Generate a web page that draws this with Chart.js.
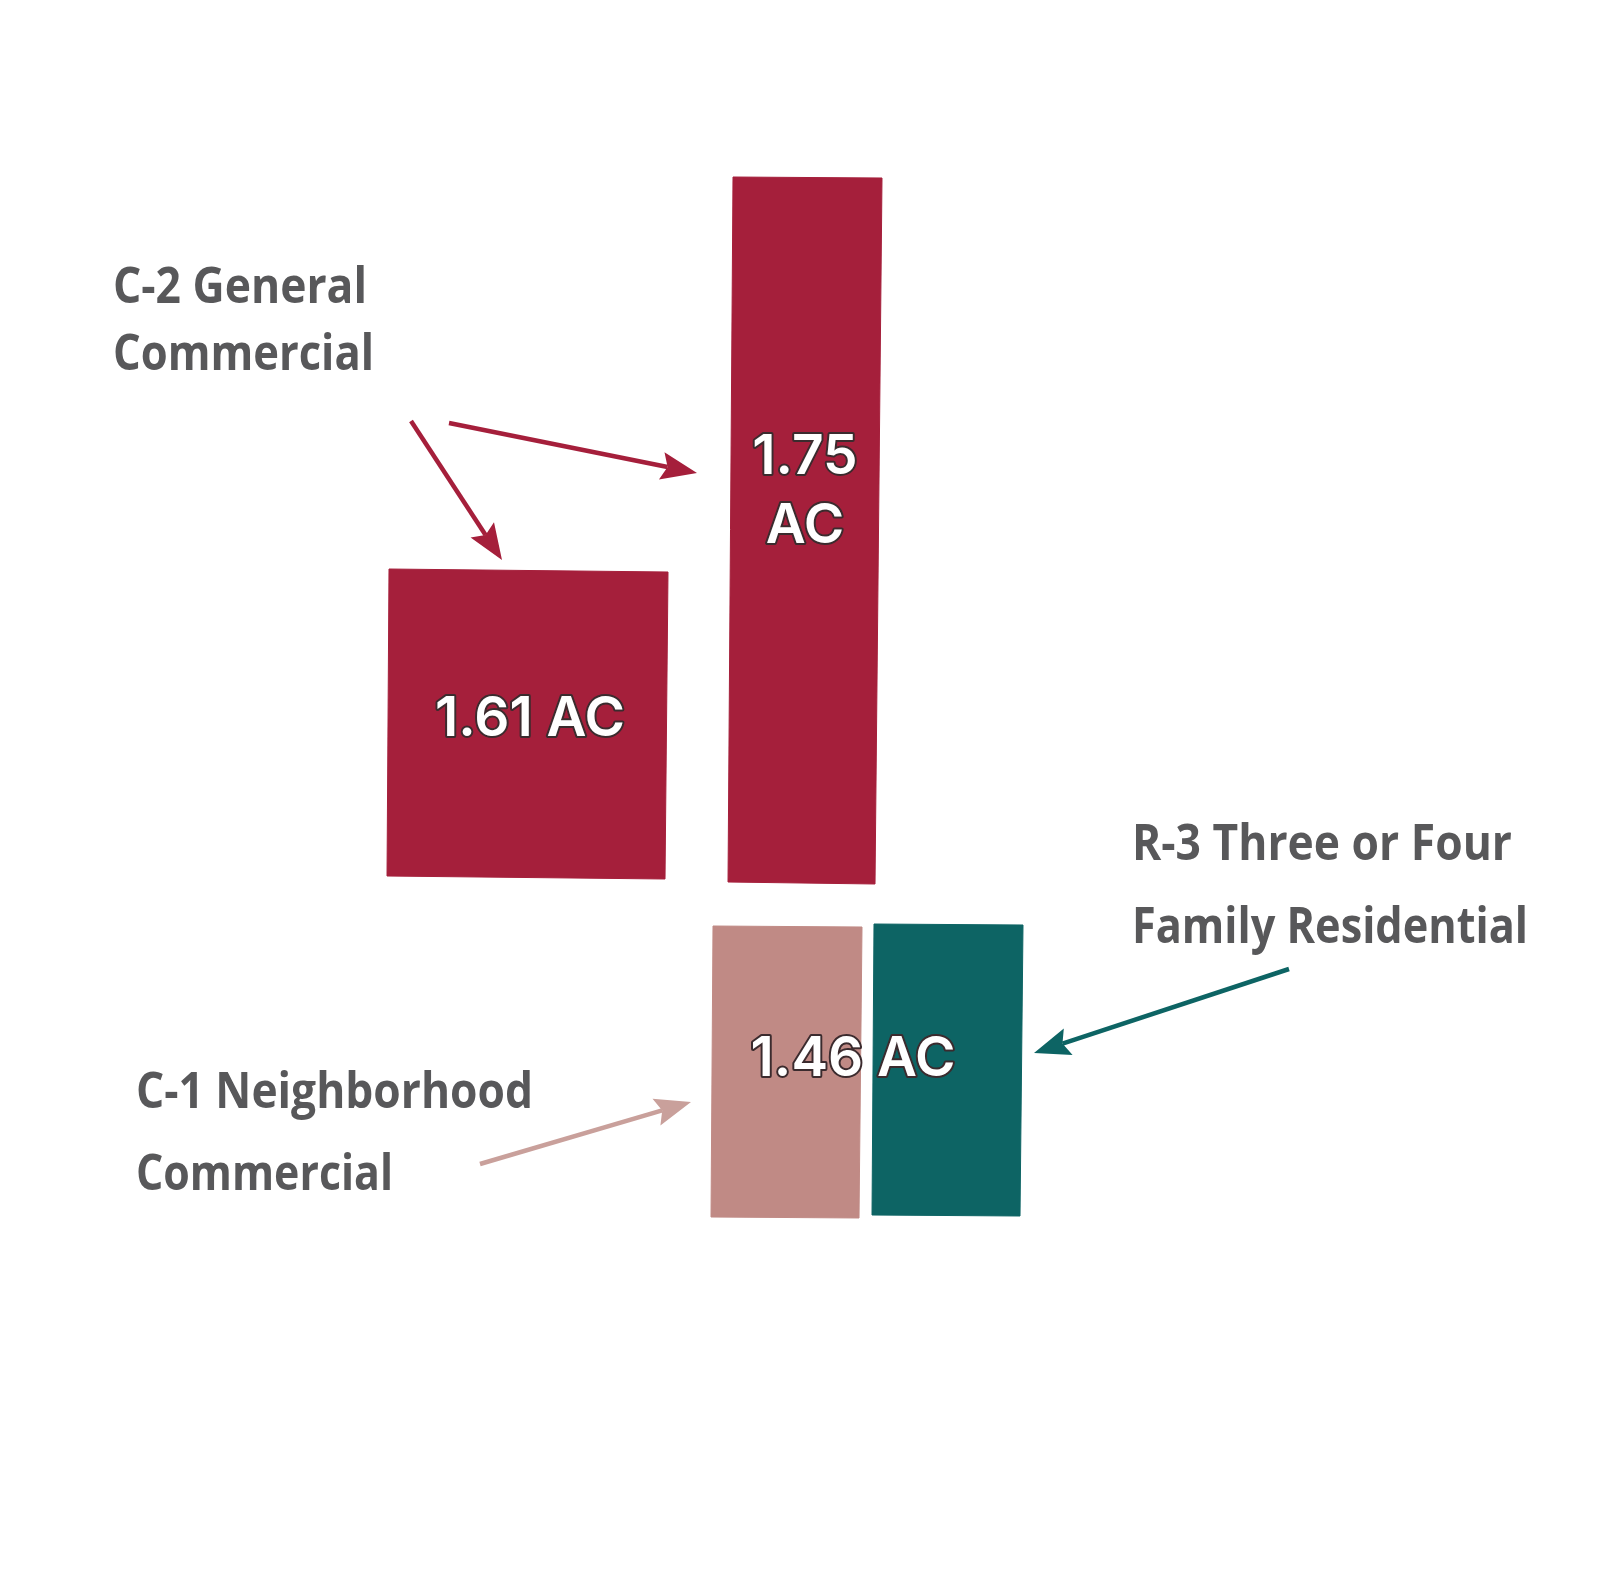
<!DOCTYPE html>
<html>
<head>
<meta charset="utf-8">
<script src="https://cdn.jsdelivr.net/npm/chart.js@4.4.1/dist/chart.umd.min.js"></script>
<style>
  html, body { margin: 0; padding: 0; background: #ffffff; }
  #wrap { width: 1600px; height: 1594px; position: relative; }
</style>
</head>
<body>
<div id="wrap"><canvas id="sitePlan"></canvas></div>
<script>
// parcel outlines, plan units (corners clockwise, first corner repeated to close)
const c2WestX = [389, 668, 665, 387, 389];
const c2WestY = [569, 572, 879, 876, 569];
const c2EastX = [733, 882, 875, 728, 733];
const c2EastY = [177, 178, 884, 882, 177];
const c1X = [713, 862, 859, 711, 713];
const c1Y = [926, 927, 1218, 1217, 926];
const r3X = [874, 1023, 1020, 872, 874];
const r3Y = [924, 925, 1216, 1215, 924];

const zoneNames = ["C-2 General Commercial", "C-2 General Commercial", "C-1 Neighborhood Commercial", "R-3 Three or Four Family Residential"];
const zoneColors = ["#a51f3b", "#a51f3b", "#c08a85", "#0d6464"];

// acreage labels
const acreText = ["1.61 AC", "1.75", "AC", "1.46 AC"];
const acreX = [530, 805, 805, 853];
const acreY = [719, 457, 526, 1059];

// zone name labels (left edge, baseline, width)
const zoneLines = ["C-2 General", "Commercial", "C-1 Neighborhood", "Commercial", "R-3 Three or Four", "Family Residential"];
const zoneLineX = [113, 113, 136, 136, 1132, 1132];
const zoneLineY = [303, 370, 1108, 1190, 860, 943];
const zoneLineW = [254, 261, 397, 257, 380, 396];

// leader arrows
const arrowFromX = [411, 449, 480, 1289];
const arrowFromY = [421, 423, 1164, 969];
const arrowToX = [502, 697, 691, 1034];
const arrowToY = [560, 473, 1102, 1053];
const arrowColors = ["#a51f3b", "#a51f3b", "#c9a09b", "#0d6464"];

function outline(xs, ys) {
  return xs.map((x, i) => ({ x: x, y: ys[i] }));
}

const outlines = [
  outline(c2WestX, c2WestY),
  outline(c2EastX, c2EastY),
  outline(c1X, c1Y),
  outline(r3X, r3Y),
];

const datasets = outlines.map((pts, i) => ({
  label: zoneNames[i],
  data: pts,
  showLine: true,
  fill: "shape",
  tension: 0,
  backgroundColor: zoneColors[i],
  borderColor: zoneColors[i],
  borderWidth: 1,
  pointRadius: 0,
  pointHoverRadius: 0,
}));

function drawArrow(ctx, x1, y1, x2, y2, color) {
  const ang = Math.atan2(y2 - y1, x2 - x1);
  const headLen = 36;
  const headHalf = 14;
  const notch = 6;
  const bx = x2 - Math.cos(ang) * (headLen - notch);
  const by = y2 - Math.sin(ang) * (headLen - notch);
  ctx.save();
  ctx.strokeStyle = color;
  ctx.fillStyle = color;
  ctx.lineWidth = 4.5;
  ctx.lineCap = "butt";
  ctx.beginPath();
  ctx.moveTo(x1, y1);
  ctx.lineTo(bx, by);
  ctx.stroke();
  const hx = x2 - Math.cos(ang) * headLen;
  const hy = y2 - Math.sin(ang) * headLen;
  const px = -Math.sin(ang) * headHalf;
  const py = Math.cos(ang) * headHalf;
  ctx.beginPath();
  ctx.moveTo(x2, y2);
  ctx.lineTo(hx + px, hy + py);
  ctx.lineTo(bx, by);
  ctx.lineTo(hx - px, hy - py);
  ctx.closePath();
  ctx.fill();
  ctx.restore();
}

const annotations = {
  id: "annotations",
  afterDatasetsDraw(chart) {
    const ctx = chart.ctx;
    const sx = chart.scales.x;
    const sy = chart.scales.y;

    // acreage
    ctx.save();
    ctx.font = "600 55px Inter";
    ctx.textAlign = "center";
    ctx.textBaseline = "middle";
    ctx.lineJoin = "round";
    acreText.forEach((t, i) => {
      const x = sx.getPixelForValue(acreX[i]);
      const y = sy.getPixelForValue(acreY[i]);
      ctx.strokeStyle = "#3b2b2e";
      ctx.lineWidth = 4;
      ctx.strokeText(t, x, y);
      ctx.fillStyle = "#ffffff";
      ctx.fillText(t, x, y);
    });
    ctx.restore();

    // zone names
    ctx.save();
    ctx.font = "700 50px 'Open Sans'";
    ctx.fillStyle = "#58585a";
    ctx.textAlign = "left";
    ctx.textBaseline = "alphabetic";
    zoneLines.forEach((t, i) => {
      ctx.fillText(t, sx.getPixelForValue(zoneLineX[i]), sy.getPixelForValue(zoneLineY[i]), zoneLineW[i]);
    });
    ctx.restore();

    // arrows
    arrowFromX.forEach((fx, i) => {
      drawArrow(ctx,
        sx.getPixelForValue(fx), sy.getPixelForValue(arrowFromY[i]),
        sx.getPixelForValue(arrowToX[i]), sy.getPixelForValue(arrowToY[i]),
        arrowColors[i]);
    });
  },
};

new Chart(document.getElementById("sitePlan"), {
  type: "scatter",
  data: { datasets: datasets },
  options: {
    responsive: true,
    maintainAspectRatio: false,
    animation: false,
    layout: { padding: 0 },
    plugins: { legend: { display: false }, tooltip: { enabled: false } },
    scales: {
      x: { type: "linear", min: 0, max: 1600, display: false },
      y: { type: "linear", min: 0, max: 1594, reverse: true, display: false },
    },
  },
  plugins: [annotations],
});
</script>
</body>
</html>
